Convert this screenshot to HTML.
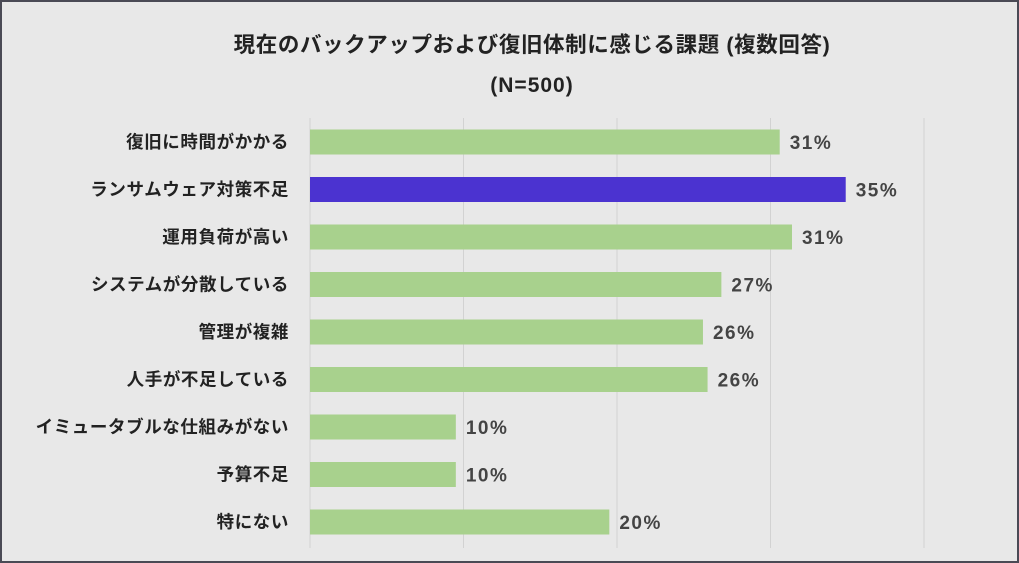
<!DOCTYPE html>
<html><head><meta charset="utf-8"><style>
html,body{margin:0;padding:0;}
body{width:1019px;height:563px;background:#e8e8e8;font-family:"Liberation Sans","Noto Sans CJK JP",sans-serif;}
#frame{position:absolute;left:0;top:0;width:1015px;height:559px;border:2px solid #4a4a55;}
</style></head><body>
<div id="frame"></div>
<svg id="chart" width="1019" height="563" style="position:absolute;left:0;top:0">
<text x="532" y="52" text-anchor="middle" font-size="21.5" letter-spacing="0.6" font-weight="bold" fill="#222">現在のバックアップおよび復旧体制に感じる課題 (複数回答)</text>
<text x="532" y="92" text-anchor="middle" font-size="21" letter-spacing="1" font-weight="bold" fill="#222">(N=500)</text>
<g id="grid"></g><g id="bars"></g>
</svg>
<script>
const categories=["復旧に時間がかかる","ランサムウェア対策不足","運用負荷が高い","システムが分散している","管理が複雑","人手が不足している","イミュータブルな仕組みがない","予算不足","特にない"];
const values=[30.6,34.9,31.4,26.8,25.6,25.9,9.5,9.5,19.5];
const valueLabels=["31%","35%","31%","27%","26%","26%","10%","10%","20%"];
const gridTicks=[0,10,20,30,40];
const highlight=[false,true,false,false,false,false,false,false,false];
const NS="http://www.w3.org/2000/svg";
const x=v=>310+v*15.35;
const yc=i=>142+i*47.5;
const g=document.getElementById('grid'),b=document.getElementById('bars');
function mk(tag,attrs,parent,txt){const e=document.createElementNS(NS,tag);for(const k in attrs)e.setAttribute(k,attrs[k]);if(txt!==undefined)e.textContent=txt;parent.appendChild(e);return e;}
gridTicks.forEach(t=>{const l=mk('line',{x1:x(t),x2:x(t),y1:118,y2:548,stroke:'#d2d2d2','stroke-width':1},g);

});
categories.forEach((c,i)=>{
const r=mk('rect',{x:x(0),y:yc(i)-12.5,width:x(values[i])-x(0),height:25,fill:highlight[i]?'#4b33d0':'#a8d18d'},b);


const t=mk('text',{x:289,y:yc(i)+6,'text-anchor':'end','font-size':17.5,'letter-spacing':0.6,'font-weight':'bold',fill:'#222'},b,c);


const v=mk('text',{x:x(values[i])+10,y:yc(i)+7,'font-size':19,'letter-spacing':1.5,'font-weight':'bold',fill:'#444'},b,valueLabels[i]);


});
</script>
</body></html>
